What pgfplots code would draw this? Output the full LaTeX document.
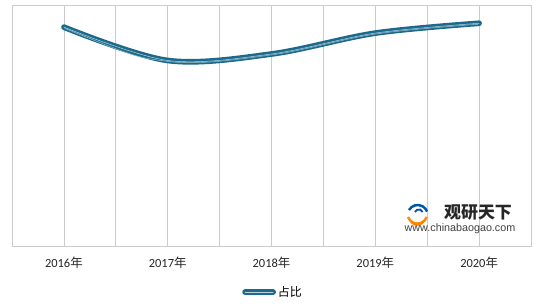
\documentclass[border=0pt]{standalone}
\usepackage{pgfplots}
\pgfplotsset{compat=1.18}
\usepackage{fontspec}
\setmainfont{Carlito}
\newfontfamily\cjk{Noto Sans CJK SC}
\newfontfamily\arialf{Liberation Sans}
\definecolor{linec}{HTML}{1B6A8C}
\definecolor{gridc}{HTML}{CCCCCC}
\begin{document}
\begin{tikzpicture}[x=1bp,y=1bp]
\useasboundingbox (0,0) rectangle (544,306);
\begin{axis}[
  at={(12bp,60bp)}, anchor=south west,
  scale only axis, width=519bp, height=240bp,
  xmin=-0.5, xmax=4.5, ymin=0, ymax=100,
  xtick={0,1,2,3,4},
  xticklabels={2016{\cjk 年},2017{\cjk 年},2018{\cjk 年},2019{\cjk 年},2020{\cjk 年}},
  minor xtick={-0.5,0.5,1.5,2.5,3.5,4.5},
  ytick=\empty,
  xmajorgrids, xminorgrids,
  major grid style={draw=gridc, line width=0.8pt},
  minor grid style={draw=gridc, line width=0.8pt},
  major tick length=0pt, minor tick length=0pt,
  axis line style={draw=gridc, line width=1pt},
  x axis line style={draw=gridc!80!black},
  tick label style={font=\fontsize{12.5}{15}\selectfont, text=black!85},
  xticklabel style={yshift=-7bp},
  legend style={at={(0.503,-0.192)}, anchor=center, draw=none, fill=none,
    font=\fontsize{12}{14}\selectfont\cjk, inner sep=0pt},
  legend cell align=left,
  legend image code/.code={\draw[#1, line cap=round] (0bp,0bp) -- (28bp,0bp);},
]
\addplot[linec, line width=2.6pt, smooth, tension=0.55, line cap=round,
  double=white!70!linec, double distance=0.5pt] coordinates {
  (0,91.2) (1,77.3) (2,80.0) (3,88.7) (4,92.8)
};
\addlegendentry{占比}
\addplot[forget plot, white!60!linec, line width=0.45pt, smooth, tension=0.55,
  yshift=-0.9bp, shorten <=1bp, shorten >=1bp] coordinates {
  (0,91.2) (1,77.3) (2,80.0) (3,88.7) (4,92.8)
};
\end{axis}
% watermark
\begin{scope}[shift={(417,92)}]
  \draw[orange!90!yellow, line width=2.5pt] (-9,-3) arc[start angle=200, end angle=340, radius=10];
  \draw[orange, line width=2pt] (-6,-8) arc[start angle=220, end angle=330, radius=8];
  \draw[teal!70!blue, line width=2.5pt] (-8,4) arc[start angle=150, end angle=20, radius=10];
  \draw[teal!60!blue, line width=1.8pt] (-2,2) arc[start angle=160, end angle=20, radius=4];
\end{scope}
\node[font=\fontsize{17}{18}\selectfont\cjk\bfseries, text=black!85] at (478,93) {观研天下};
\node[font=\fontsize{10.8}{12}\selectfont\arialf, text=black!75] at (460,77) {www.chinabaogao.com};
\end{tikzpicture}
\end{document}
